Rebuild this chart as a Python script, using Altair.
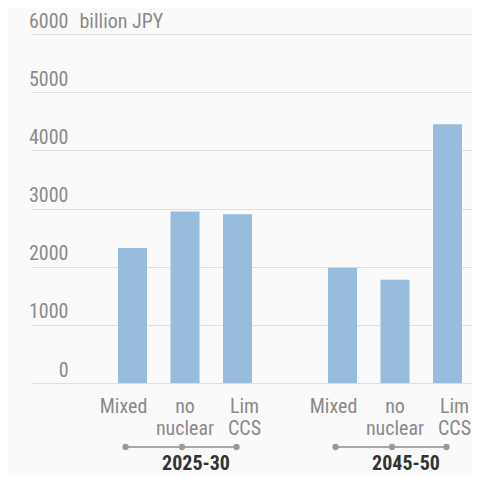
import altair as alt
import pandas as pd

periods = ["2025-30", "2045-50"]
scenarios = ["Mixed", "no nuclear", "Lim CCS"]
scenario_labels = ["Mixed", "no\nnuclear", "Lim\nCCS"]
values_2025 = [2320, 2950, 2900]
values_2045 = [1980, 1775, 4450]
y_ticks = [0, 1000, 2000, 3000, 4000, 5000, 6000]
unit = "billion JPY"

FONT = "Liberation Sans Narrow, Roboto Condensed, DejaVu Sans Condensed, sans-serif"
GRAY = "#8a8a8a"

rows = []
for p, vals in zip(periods, [values_2025, values_2045]):
    for s, lab, v in zip(scenarios, scenario_labels, vals):
        rows.append({"key": f"{p}|{s}", "period": p, "scenario": s, "label": lab, "value": v})
df = pd.DataFrame(rows)

domain = [f"{periods[0]}|{s}" for s in scenarios] + ["gap"] + [f"{periods[1]}|{s}" for s in scenarios]

xscale = alt.Scale(domain=domain, paddingInner=0.4476, paddingOuter=0.924, align=0.897)
x_enc = alt.X("key:N", scale=xscale, axis=None, sort=domain)

base = alt.Chart(df)

bars = base.mark_bar(color="#97bcdc").encode(
    x=x_enc,
    y=alt.Y("value:Q",
            scale=alt.Scale(domain=[0, 6000], nice=False),
            axis=alt.Axis(values=y_ticks, format="d", grid=True, gridColor="#dedede", gridWidth=1.2,
                          domain=False, ticks=False, labelAlign="right", labelPadding=-37,
                          labelBaseline="alphabetic", labelOffset=-7, labelColor=GRAY,
                          labelFontSize=20, labelFont=FONT,
                          title=unit, titleAngle=0, titleX=48, titleY=-7, titleAlign="left",
                          titleBaseline="alphabetic", titleFontWeight="normal",
                          titleColor=GRAY, titleFontSize=20, titleFont=FONT)),
)

label_dx = {"Mixed": -9, "no nuclear": 0, "Lim CCS": 7}
dot_dx = {"Mixed": -7, "no nuclear": -3, "Lim CCS": -1}

layers = [bars]
for s in scenarios:
    layers.append(
        base.transform_filter(alt.datum.scenario == s).mark_text(
            font=FONT, fontSize=20, color=GRAY, align="center", baseline="alphabetic",
            lineBreak="\n", lineHeight=22, dx=label_dx[s]
        ).encode(x=x_enc, y=alt.value(379), text="label:N")
    )
    layers.append(
        base.transform_filter(alt.datum.scenario == s).mark_circle(
            color="#9a9a9a", size=40, opacity=1, xOffset=dot_dx[s]
        ).encode(x=x_enc, y=alt.value(413))
    )

grp = pd.DataFrame({
    "period": periods,
    "first": [f"{p}|{scenarios[0]}" for p in periods],
    "mid": [f"{p}|{scenarios[1]}" for p in periods],
    "last": [f"{p}|{scenarios[2]}" for p in periods],
})
gbase = alt.Chart(grp)
rule = gbase.mark_rule(color="#a8a8a8", strokeWidth=2, xOffset=-7, x2Offset=-1).encode(
    x=alt.X("first:N", scale=xscale, axis=None, sort=domain),
    x2="last:N",
    y=alt.value(413),
)
glabel = gbase.mark_text(font=FONT, fontSize=20, fontWeight="bold", color="#333333",
                         align="center", baseline="alphabetic", dx=11).encode(
    x=alt.X("mid:N", scale=xscale, axis=None, sort=domain),
    y=alt.value(436),
    text="period:N",
)

chart = alt.layer(rule, *layers, glabel).properties(
    width=441, height=349,
    padding={"left": 23, "top": 26, "right": 0, "bottom": 92},
    autosize=alt.AutoSizeParams(type="none"),
    background="#fafafa",
).configure_view(stroke=None)

chart.save("out.html", embed_options={"renderer": "svg", "actions": False})
